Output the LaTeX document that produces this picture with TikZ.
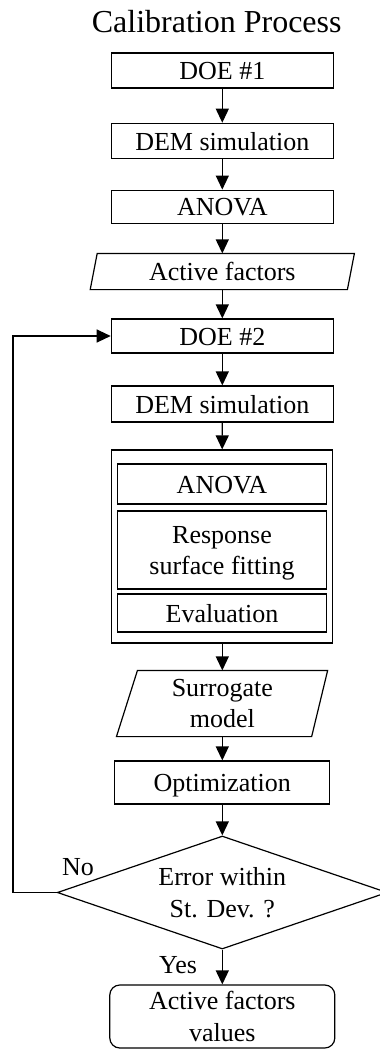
\documentclass[tikz,border=0pt]{standalone}
\usepackage{fontspec}
\setmainfont{Liberation Serif}
\usetikzlibrary{arrows.meta,shapes.geometric}

\tikzset{
  flow/.style={font=\fontsize{26}{31.5}\selectfont, inner sep=0pt},
  one/.style={text height=18.5pt, text depth=0pt},
  box/.style={flow, draw, rectangle, minimum width=222pt},
  inbox/.style={flow, draw, rectangle, minimum width=209pt},
  io/.style={flow, rectangle},
  arr/.style={-{Triangle[length=14pt,width=13pt]}},
}

\begin{document}
\begin{tikzpicture}[x=1pt, y=-1pt, line width=1.2pt]
  \useasboundingbox (0,0) rectangle (380,1050);

  % heading
  \node[anchor=base, font=\fontsize{32}{36}\selectfont] (title) at (216.7,32.7) {Calibration Process};

  % screening stage
  \node[box, one, minimum height=35pt] (doe1) at (222.3,70.5) {DOE \#1};
  \node[box, one, minimum height=35pt] (dem1) at (222.3,140.8) {DEM simulation};
  \node[box, one, minimum height=33pt] (an1)  at (222.3,206.7) {ANOVA};
  \node[io, one, minimum width=256pt, minimum height=35pt] (act) at (222.3,271.5) {Active factors};
  \draw ([xshift=3.5pt]act.north west) -- ([xshift=3.5pt]act.north east)
        -- ([xshift=-3.5pt]act.south east) -- ([xshift=-3.5pt]act.south west) -- cycle;

  % calibration loop
  \node[box, one, minimum height=34pt] (doe2) at (222.3,336) {DOE \#2};
  \node[box, one, minimum height=36pt] (dem2) at (222.3,404) {DEM simulation};

  \node[draw, rectangle, inner sep=0pt, minimum width=221pt, minimum height=193pt] (fit) at (222,546.5) {};
  \node[inbox, one, minimum height=40pt] (an2) at (222,484) {ANOVA};
  \node[inbox, align=center, minimum height=78pt] (rsf) at (222,550) {\rule{0pt}{23.5pt}Response\\surface fitting};
  \node[inbox, one, minimum height=38pt] (ev) at (222,613) {Evaluation};

  \node[io, align=center, minimum width=191.5pt, minimum height=65pt] (sur) at (222.3,703.5) {Surrogate\\model};
  \draw ([xshift=11.5pt]sur.north west) -- ([xshift=9pt]sur.north east)
        -- ([xshift=-7pt]sur.south east) -- ([xshift=-9.5pt]sur.south west) -- cycle;

  \node[box, one, minimum width=215pt, minimum height=43pt] (opt) at (222.3,782.5) {Optimization};

  \node[flow, draw, diamond, aspect=2.9, align=center, minimum width=330pt, minimum height=113pt] (dia) at (222.3,892.5) {Error within\\St. Dev. ?};

  \node[flow, draw, rectangle, rounded corners=10pt, align=center, minimum width=225pt, minimum height=63pt] (fin) at (222.3,1016.5) {Active factors\\values};

  \node[flow, anchor=base] (no)  at (78,875) {No};
  \node[flow, anchor=base] (yes) at (178,973) {Yes};

  % connectors
  \draw[arr] (doe1) -- (dem1);
  \draw[arr] (dem1) -- (an1);
  \draw[arr] (an1) -- (act);
  \draw[arr] (act) -- (doe2);
  \draw[arr] (doe2) -- (dem2);
  \draw[arr] (dem2) -- (fit);
  \draw[arr] (fit.south -| sur.north) -- (sur);
  \draw[arr] (sur) -- (opt);
  \draw[arr] (opt) -- (dia);
  \draw[arr] (dia) -- (fin);
  \coordinate (back) at (13,892.5);
  \draw[arr] (dia.west) -- (back) |- (doe2.west);
\end{tikzpicture}
\end{document}
